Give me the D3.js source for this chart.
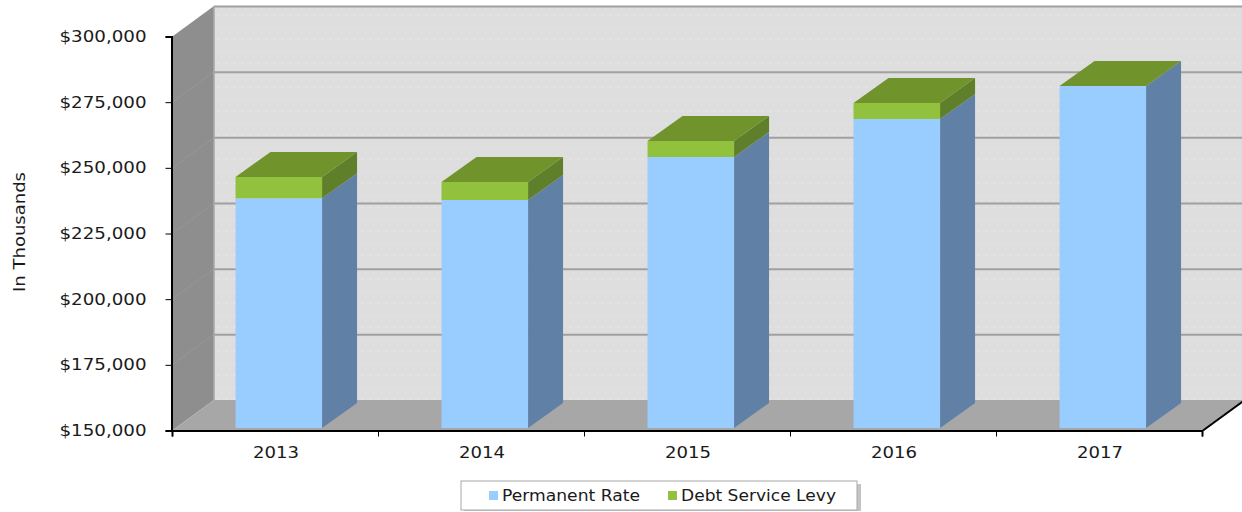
<!DOCTYPE html>
<html><head><meta charset="utf-8">
<script src="https://cdn.jsdelivr.net/npm/d3@7/dist/d3.min.js"></script>
<style>html,body{margin:0;padding:0;background:#fff;overflow:hidden}svg{display:block}
text{font-family:"DejaVu Sans",Verdana,sans-serif;fill:#1a1a1a}</style></head><body>
<svg id="c" width="1242" height="512"></svg>
<script>
const categories=["2013","2014","2015","2016","2017"];
const permanentRate=[237500,236800,253200,267600,280200];
const debtServiceLevy=[8100,6900,6100,6100,0];
const yTicks=[150000,175000,200000,225000,250000,275000,300000];
const seriesNames=["Permanent Rate","Debt Service Levy"];
const yTitle="In Thousands";

const svg=d3.select("#c");
const defs=svg.append("defs");
const dots=defs.append("pattern").attr("id","dots").attr("width",8).attr("height",12).attr("patternUnits","userSpaceOnUse");
dots.append("rect").attr("x",2).attr("y",3).attr("width",1).attr("height",1).attr("fill","#fff").attr("opacity",.55);

const y=d3.scaleLinear().domain([150000,300000]).range([430,36]);
const x=d3.scaleBand().domain(categories).range([173,1203]).paddingInner(0.58).paddingOuter(0.29);
const xEdge=d3.scaleLinear().domain([0,5]).range([173,1203]);
const wallDx=41,wallDy=-30,barDx=35,barDy=-25,zOff=2.8,zOffY=-2;
const pts=a=>a.map(p=>p.join(",")).join(" ");
const poly=(a,f,op)=>svg.append("polygon").attr("points",pts(a)).attr("fill",f).attr("opacity",op==null?1:op);

const L=xEdge(0),R=xEdge(5),T=y(300000),B=y(150000);
poly([[L+wallDx,T+wallDy],[1242,T+wallDy],[1242,B+wallDy],[L+wallDx,B+wallDy]],"#dedede");
poly([[L+wallDx,T+wallDy],[1242,T+wallDy],[1242,B+wallDy],[L+wallDx,B+wallDy]],"url(#dots)");
poly([[L,T],[L+wallDx,T+wallDy],[L+wallDx,B+wallDy],[L,B]],"#8e8e8e");
poly([[L,B],[L+wallDx,B+wallDy],[1243,B+wallDy],[R,B]],"#a7a7a7");
yTicks.forEach(t=>{
  const yy=y(t);
  if(t>150000) svg.append("line").attr("x1",L+wallDx).attr("x2",1242).attr("y1",yy+wallDy+0.5).attr("y2",yy+wallDy+0.5).attr("stroke","#a0a0a0").attr("stroke-width",2);
  if(t>150000&&t<300000) svg.append("line").attr("x1",L).attr("y1",yy).attr("x2",L+wallDx).attr("y2",yy+wallDy).attr("stroke","#979797").attr("stroke-width",1);
});
svg.append("line").attr("x1",L+wallDx).attr("x2",L+wallDx).attr("y1",T+wallDy).attr("y2",B+wallDy).attr("stroke","#a8a8a8").attr("stroke-width",1.5);
categories.forEach((c,i)=>{
  const x0=x(c)+zOff,x1=x0+x.bandwidth();
  const yb=y(150000)+zOffY,yp=y(permanentRate[i])+zOffY,yt=y(permanentRate[i]+debtServiceLevy[i])+zOffY;
  poly([[x1,yb],[x1+barDx,yb+barDy],[x1+barDx,yp+barDy],[x1,yp]],"#6080a5");
  poly([[x0,yb],[x1,yb],[x1,yp],[x0,yp]],"#99ccff");
  if(debtServiceLevy[i]>0){
    poly([[x1,yp],[x1+barDx,yp+barDy],[x1+barDx,yt+barDy],[x1,yt]],"#5f7f2a");
    poly([[x0,yp],[x1,yp],[x1,yt],[x0,yt]],"#92c13e");
  }
  poly([[x0,yt],[x1,yt],[x1+barDx,yt+barDy],[x0+barDx,yt+barDy]],"#70932c");
});
const gy=svg.append("g").attr("transform",`translate(${L-1.5},0.5)`)
 .call(d3.axisLeft(y).tickValues(yTicks).tickSize(6).tickPadding(19).tickFormat(d3.format("$,d")));
gy.selectAll(".domain,line").attr("stroke","#000");
gy.select(".domain").attr("stroke-width",2);
gy.selectAll("text").attr("font-size",16).attr("textLength",87).attr("lengthAdjust","spacingAndGlyphs");
const gx=svg.append("g").attr("transform",`translate(-1,${B+0.5})`)
 .call(d3.axisBottom(xEdge).tickValues(d3.range(0,6)).tickSize(6).tickFormat(""));
gx.selectAll(".domain,line").attr("stroke","#000");
gx.select(".domain").attr("stroke-width",2);
svg.append("line").attr("x1",R).attr("y1",B+0.5).attr("x2",R+wallDx).attr("y2",B+wallDy+0.5).attr("stroke","#000").attr("stroke-width",2);
const xl=d3.scaleBand().domain(categories).range([173,1203]);
svg.append("g").selectAll("text").data(categories).join("text")
 .attr("x",d=>xl(d)+xl.bandwidth()/2).attr("y",458).attr("text-anchor","middle").attr("font-size",16).attr("textLength",46).attr("lengthAdjust","spacingAndGlyphs").text(d=>d);
svg.append("text").attr("transform","translate(25,232) rotate(-90)").attr("text-anchor","middle").attr("font-size",16).attr("textLength",120).attr("lengthAdjust","spacingAndGlyphs").text(yTitle);
svg.append("rect").attr("x",464).attr("y",484).attr("width",397).attr("height",27).attr("fill","#c4c4c4");
svg.append("rect").attr("x",461).attr("y",481).attr("width",396).attr("height",29).attr("fill","#fff").attr("stroke","#a8a8a8");
const legX=[489,668],legC=["#99ccff","#92c13e"],legW=[138,155];
seriesNames.forEach((n,i)=>{
  svg.append("rect").attr("x",legX[i]).attr("y",491).attr("width",9).attr("height",9).attr("fill",legC[i]);
  svg.append("text").attr("x",legX[i]+13).attr("y",501).attr("font-size",15).attr("textLength",legW[i]).attr("lengthAdjust","spacingAndGlyphs").text(n);
});
</script></body></html>
